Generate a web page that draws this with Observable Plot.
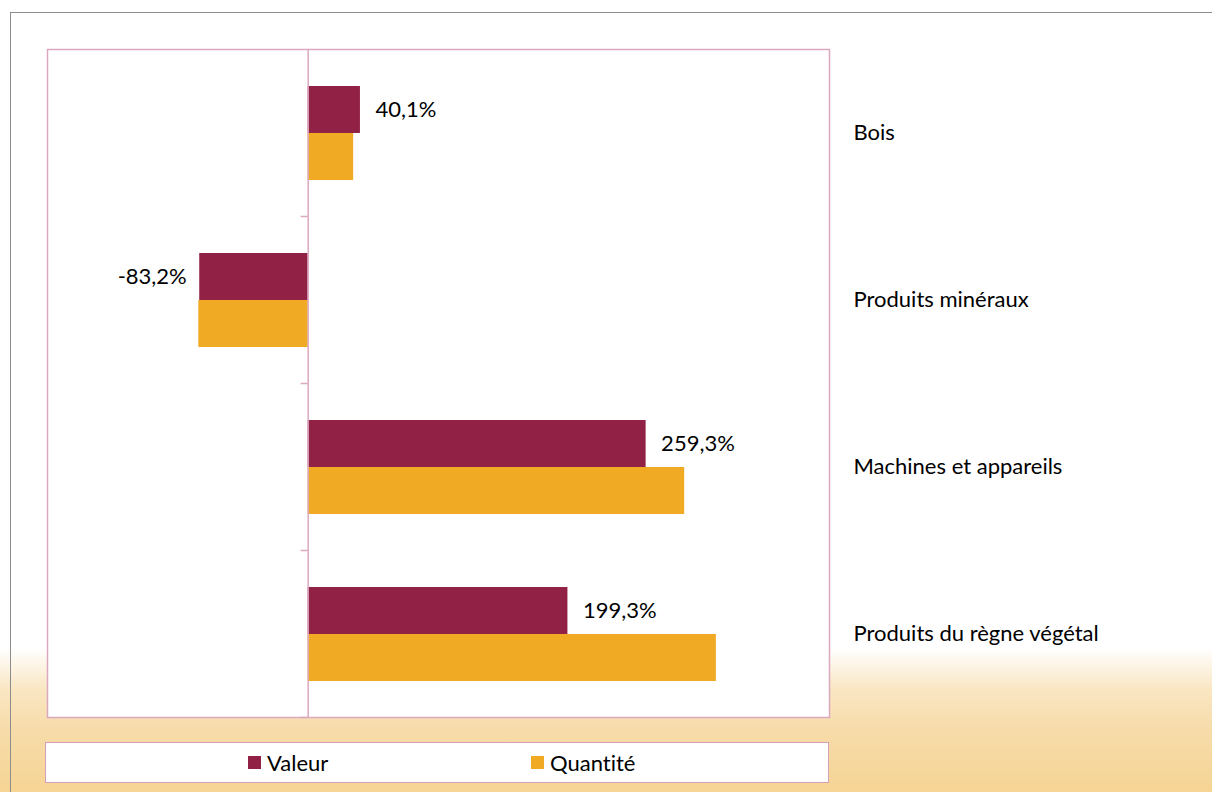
<!DOCTYPE html>
<html>
<head>
<meta charset="utf-8">
<script src="https://cdn.jsdelivr.net/npm/d3@7"></script>
<script src="https://cdn.jsdelivr.net/npm/@observablehq/plot@0.6"></script>
<style>
  html, body { margin: 0; padding: 0; background: #fff; }
  #page {
    position: relative; width: 1212px; height: 792px; overflow: hidden;
    background: linear-gradient(to bottom, #ffffff 0px, #ffffff 648px, #f9e6c2 690px, #f7dcaa 730px, #f5d494 792px);
    font-family: Lato, "Open Sans", sans-serif;
    font-variant-ligatures: none;
  }
  #page svg text { font-variant-ligatures: none; }
  #outer { position: absolute; left: 10px; top: 12px; width: 1300px; height: 900px; border-top: 1.5px solid #8c8c8c; border-left: 1.5px solid #8c8c8c; }
  #chart { position: absolute; left: 0; top: 0; }
  #legend {
    position: absolute; left: 45px; top: 742px; width: 782px; height: 39px;
    background: #fff; border: 1.5px solid #d6a0ba;
    display: flex; align-items: center; font-size: 22px; color: #000;
  }
  .item { position: absolute; top: 0; height: 100%; display: flex; align-items: center; }
  .sw { width: 13px; height: 13px; margin-right: 6px; }
</style>
</head>
<body>
<div id="page">
  <div id="outer"></div>
  <div id="chart"></div>
  <div id="legend"></div>
</div>
<script>
const categories = ["Bois", "Produits minéraux", "Machines et appareils", "Produits du règne végétal"];
const valeur = [40.1, -83.2, 259.3, 199.3];
const quantite = [34.9, -83.9, 288.9, 313.2];
const series = ["Valeur", "Quantité"];
const colors = ["#912145", "#f0aa23"];

const table = categories.map((c, i) => ({category: c, valeur: valeur[i], quantite: quantite[i]}));
const fmt = v => v.toFixed(1).replace(".", ",") + "%";
const pink = "#dba8bf";

const chart = Plot.plot({
  width: 1212,
  height: 730,
  marginLeft: 47,
  marginRight: 383,
  marginTop: 49,
  marginBottom: 13,
  style: {fontFamily: "Lato, 'Open Sans', sans-serif", fontSize: "22px", color: "#000", background: "transparent", overflow: "visible"},
  x: {domain: [-200, 400], axis: null},
  y: {domain: categories, padding: 0},
  marks: [
    Plot.frame({fill: "white", stroke: "none"}),
    Plot.barX(table, {y: "category", x: "valeur", fill: colors[0], insetTop: 37, insetBottom: 83}),
    Plot.barX(table, {y: "category", x: "quantite", fill: colors[1], insetTop: 84, insetBottom: 36}),
    Plot.ruleX([0], {stroke: pink, strokeWidth: 1.5}),
    Plot.ruleY(categories, {y: d => d, x1: 0, x2: 0, dy: 83.5, insetLeft: -7, stroke: pink, strokeWidth: 1.5}),
    Plot.frame({stroke: pink, strokeWidth: 1.5}),
    Plot.text(table.filter(d => d.valeur >= 0), {y: "category", x: "valeur", text: d => fmt(d.valeur), textAnchor: "start", dx: 15, dy: -23, fill: "#000"}),
    Plot.text(table.filter(d => d.valeur < 0), {y: "category", x: "valeur", text: d => fmt(d.valeur), textAnchor: "end", dx: -13, dy: -23, fill: "#000"}),
    Plot.axisY({anchor: "right", tickSize: 0, tickPadding: 24, label: null, fill: "#000"})
  ]
});
document.getElementById("chart").appendChild(chart);

const legend = document.getElementById("legend");
const lefts = [202, 485];
series.forEach((s, i) => {
  const it = document.createElement("div");
  it.className = "item";
  it.style.left = lefts[i] + "px";
  it.innerHTML = `<div class="sw" style="background:${colors[i]}"></div><span>${s}</span>`;
  legend.appendChild(it);
});
</script>
</body>
</html>
